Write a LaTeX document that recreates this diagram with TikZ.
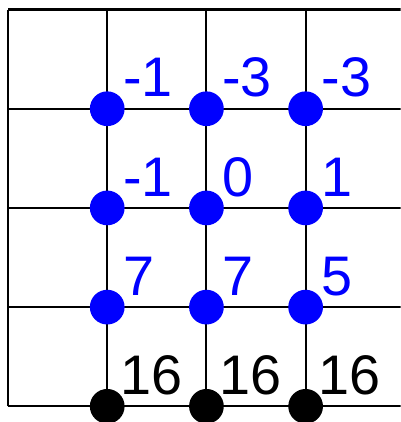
\documentclass[tikz,border=0pt]{standalone}
\usepackage{fontspec}
\setmainfont{Liberation Sans}
\begin{document}
\begin{tikzpicture}[
    line width=0.6pt,
    dot/.style={circle, fill=blue, inner sep=0pt, minimum size=0.35cm},
    enddot/.style={dot, fill=black},
    val/.style={anchor=base west, inner sep=0pt, text=blue, font=\fontsize{16}{19}\selectfont}
]
    % Frame of the picture
    \useasboundingbox (-0.081,-0.158) rectangle (3.957,4.096);
    \clip (-0.081,-0.158) rectangle (3.957,4.096);

    % Grid lines
    \foreach \y in {0,...,4}
        \draw (0,\y) -- (4,\y);
    \foreach \x in {0,...,3}
        \draw (\x,0) -- (\x,4);

    % Blue points with their values
    \foreach \x/\y/\v in {1/3/-1, 2/3/-3, 3/3/-3,
                          1/2/-1, 2/2/0,  3/2/1,
                          1/1/7,  2/1/7,  3/1/5} {
        \node[dot] (d\x\y) at (\x,\y) {};
        \node[val] (v\x\y) at ([xshift=0.15cm,yshift=0.12cm]d\x\y.center) {\v};
    }

    % Black points on the bottom line
    \foreach \x in {1,2,3} {
        \node[enddot] (d\x0) at (\x,0) {};
        \node[val, text=black] (v\x0) at ([xshift=0.12cm,yshift=0.12cm]d\x0.center) {16};
    }
\end{tikzpicture}
\end{document}
